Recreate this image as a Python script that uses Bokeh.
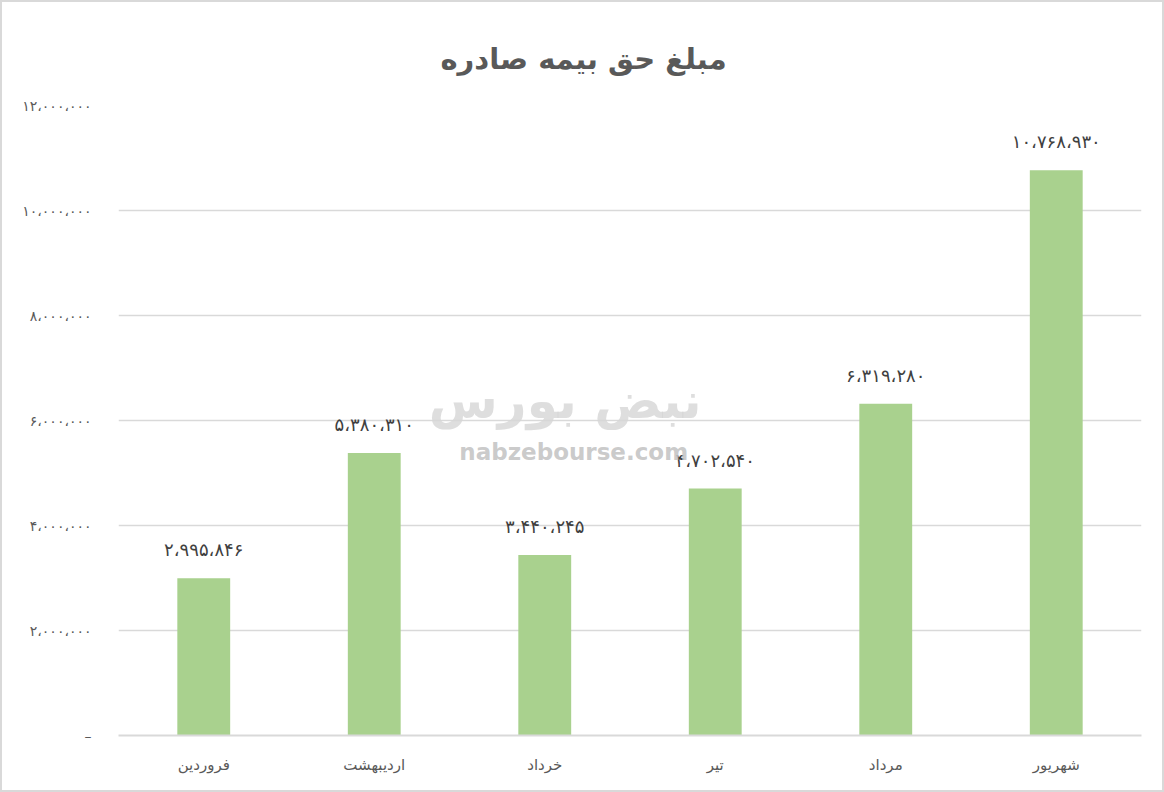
from bokeh.plotting import figure
from bokeh.models import ColumnDataSource, FixedTicker, Range1d, Label
from bokeh.embed import file_html
from bokeh.resources import INLINE

months = ["فروردین", "اردیبهشت", "خرداد", "تیر", "مرداد", "شهریور"]
values = [2995846, 5380310, 3440245, 4702540, 6319280, 10768930]
value_labels = ["۲،۹۹۵،۸۴۶", "۵،۳۸۰،۳۱۰", "۳،۴۴۰،۲۴۵", "۴،۷۰۲،۵۴۰", "۶،۳۱۹،۲۸۰", "۱۰،۷۶۸،۹۳۰"]
y_ticks = [0, 2000000, 4000000, 6000000, 8000000, 10000000, 12000000]
y_tick_labels = ["–", "۲،۰۰۰،۰۰۰", "۴،۰۰۰،۰۰۰", "۶،۰۰۰،۰۰۰", "۸،۰۰۰،۰۰۰", "۱۰،۰۰۰،۰۰۰", "۱۲،۰۰۰،۰۰۰"]
title_text = "مبلغ حق بیمه صادره"

xpos = [i + 0.5 for i in range(len(months))]
src = ColumnDataSource(dict(x=xpos, top=values, lab=value_labels))

FONT = "DejaVu Sans"

p = figure(width=1164, height=792, output_backend="svg", toolbar_location=None,
           x_range=Range1d(0, 6), y_range=Range1d(0, 12000000),
           min_border_left=116, min_border_right=25, min_border_top=103, min_border_bottom=59)
p.title.text = title_text
p.title.align = "left"
p.title.offset = 322
p.title.text_font = FONT
p.title.text_font_size = "29px"
p.title.text_font_style = "bold"
p.title.text_color = "#595959"
p.title.standoff = 60

p.outline_line_color = None
p.styles = {"border": "2px solid #d9d9d9", "box-sizing": "border-box"}

# watermark
p.add_layout(Label(x=2.62, y=6380000, text="نبض بورس", text_align="center", text_baseline="middle",
                   text_font=FONT, text_font_size="50px", text_font_style="bold",
                   text_color="#d6d6d6", text_alpha=0.8))
p.add_layout(Label(x=2.67, y=5400000, text="nabzebourse.com", text_align="center", text_baseline="middle",
                   text_font=FONT, text_font_size="23px", text_font_style="bold",
                   text_color="#c4c4c4", text_alpha=0.9))

p.vbar(x="x", top="top", bottom=0, width=0.31, source=src, fill_color="#A9D18E", line_color=None)
p.text(x="x", y="top", text="lab", source=src, text_align="center", text_baseline="bottom",
       y_offset=-18, text_font_size="18px", text_color="#404040", text_font={"value": FONT})

p.xaxis.ticker = FixedTicker(ticks=xpos)
p.xaxis.major_label_overrides = {x: m for x, m in zip(xpos, months)}
p.xaxis.major_tick_line_color = None
p.xaxis.minor_tick_line_color = None
p.xaxis.axis_line_color = "#d9d9d9"
p.xaxis.axis_line_width = 2
p.xaxis.major_label_text_font = FONT
p.xaxis.major_label_text_font_size = "15px"
p.xaxis.major_label_text_color = "#595959"
p.xaxis.major_label_standoff = 14

p.yaxis.ticker = FixedTicker(ticks=y_ticks)
p.yaxis.major_label_overrides = {t: s for t, s in zip(y_ticks, y_tick_labels)}
p.yaxis.major_tick_line_color = None
p.yaxis.minor_tick_line_color = None
p.yaxis.axis_line_color = None
p.yaxis.major_label_text_font = FONT
p.yaxis.major_label_text_font_size = "14px"
p.yaxis.major_label_text_color = "#595959"
p.yaxis.major_label_standoff = 21

p.xgrid.grid_line_color = None
p.ygrid.grid_line_color = "#d9d9d9"
p.ygrid.grid_line_width = 1.5

open("out.html", "w").write(file_html(p, INLINE))
